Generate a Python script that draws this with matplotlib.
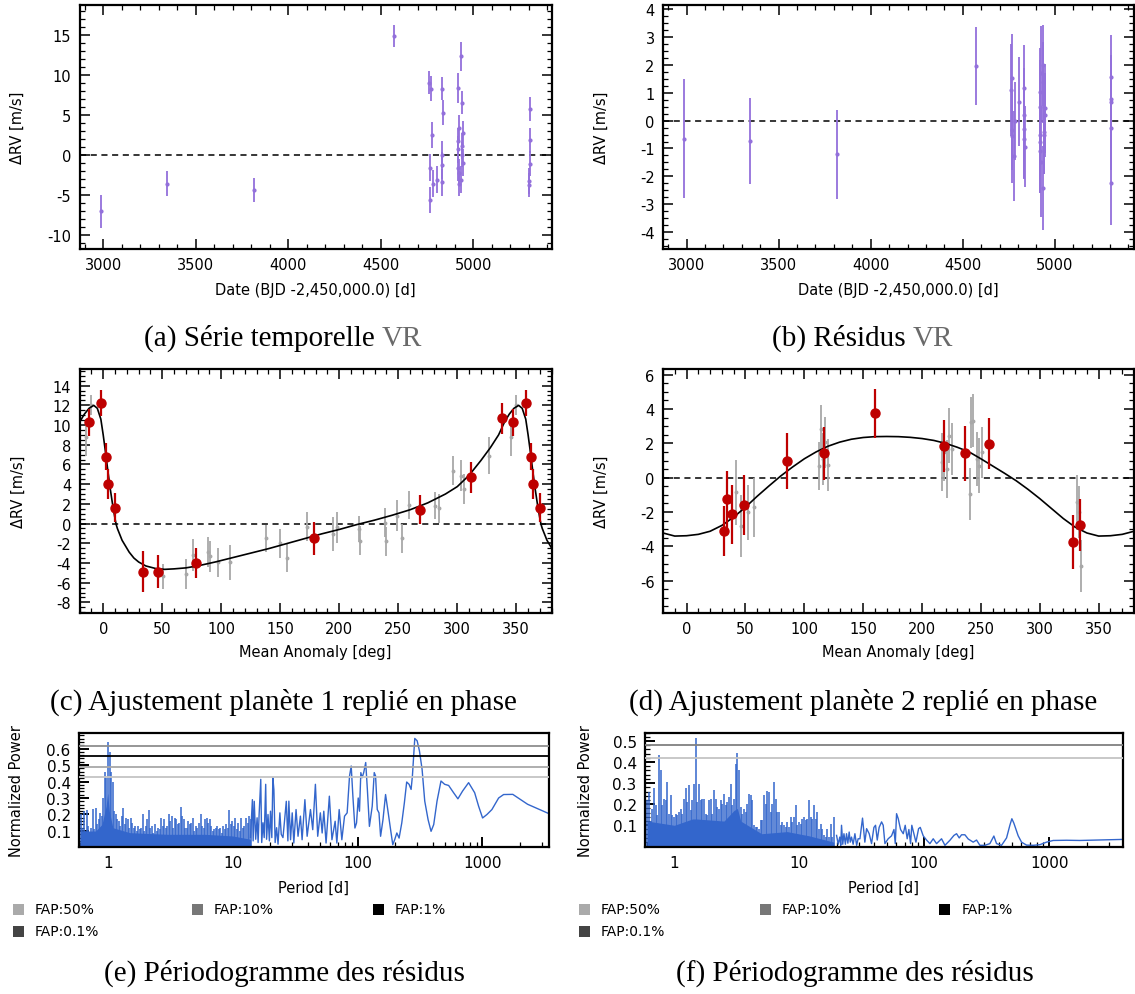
import numpy as np
import matplotlib
matplotlib.use("Agg")
import matplotlib.pyplot as plt
from matplotlib.ticker import (MultipleLocator, FixedLocator, FixedFormatter,
                               NullFormatter, LogLocator, FormatStrFormatter)
from matplotlib.patches import Rectangle

plt.rcParams['axes.unicode_minus'] = False
plt.rcParams['font.family'] = ['DejaVu Sans']

# ---------------- data: time series (panels a, b) ----------------
obs_date = [2988, 3346, 3815, 4570,
            4761, 4766, 4768, 4770, 4779, 4784, 4806,
            4830, 4831, 4833, 4834, 4837,
            4917, 4918, 4919, 4920, 4921, 4924, 4925, 4935, 4937, 4938, 4939, 4942, 4944, 4947,
            5303, 5304, 5305, 5306, 5307]
rv = [-7.1, -3.6, -4.4, 14.87,
      9.05, -5.70, -1.63, 8.29, 2.51, -3.64, -3.10,
      8.29, -3.44, -1.34, 0.0, 5.28,
      1.72, 0.67, -1.63, 8.42, 3.39, -2.26, -3.64, -3.10, 12.32, 1.09, 6.54, 0.0, 2.77, -1.0,
      -3.3, -3.8, -1.1, 1.8, 5.7]
rv_err = [2.1, 1.55, 1.55, 1.42,
          1.47, 1.65, 1.67, 1.6, 1.6, 1.68, 1.68,
          1.4, 1.68, 1.65, 1.68, 1.53,
          1.68, 1.68, 1.62, 1.88, 1.61, 1.68, 1.57, 1.68, 1.78, 1.68, 1.47, 1.57, 1.51, 1.68,
          1.6, 1.5, 1.6, 1.6, 1.5]
res = [-0.65, -0.74, -1.21, 1.96,
       1.11, -0.33, 1.52, -0.55, -1.27, 0.0, 0.68,
       1.16, 0.20, -0.31, -0.66, -0.93,
       1.02, 0.48, -0.51, -0.78, -1.09, -1.47, 1.71, -2.41, 1.98, 1.38, -0.42, -0.51, 0.45, 0.2,
       1.58, 0.68, 0.77, -0.26, -2.23]
res_err = [2.13, 1.55, 1.59, 1.40,
           1.65, 1.45, 1.6, 1.7, 1.6, 1.4, 1.6,
           1.55, 1.7, 1.8, 1.4, 1.45,
           1.6, 1.7, 1.6, 1.8, 1.5, 2.0, 1.7, 1.5, 1.45, 1.45, 1.5, 1.4, 1.6, 1.5,
           1.5, 1.65, 1.6, 1.5, 1.5]

# ---------------- data: phase folded planet 1 (panel c) ----------------
p1_red_phase = [2.2, 4.3, 9.9, 33.8, 46.5, 78.7, 178.3, 268.5, 311.3, 337.6, 347.6, 358.1]
p1_red_rv = [6.79, 4.02, 1.61, -4.89, -4.89, -4.0, -1.5, 1.41, 4.69, 10.68, 10.28, 12.24]
p1_red_err = [1.4, 1.5, 1.5, 2.1, 1.7, 1.55, 1.65, 1.45, 1.6, 1.6, 1.4, 1.35]
p1_gray_phase = [50.8, 69.8, 76.0, 88.7, 90.5, 97.3, 107.6, 137.6, 149.7, 155.9,
                 172.7, 195.0, 198.0, 216.7, 217.3, 238.7, 239.5, 249.0, 253.0, 259.5,
                 281.5, 284.3, 296.0, 302.9, 306.0, 327.0, 345.7, 349.8]
p1_gray_rv = [-5.36, -5.12, -3.2, -2.86, -3.33, -3.94, -3.94, -1.5, -2.0, -3.5,
              -0.3, -1.06, -0.4, -0.55, -1.74, 0.1, -1.8, 0.8, -1.5, 1.88,
              1.82, 1.54, 5.37, 4.86, 3.5, 6.89, 8.75, 12.0]
p1_gray_err = [1.3, 1.5, 1.6, 1.5, 1.6, 1.5, 1.75, 1.4, 1.45, 1.45,
               1.45, 1.7, 1.6, 1.3, 1.5, 1.5, 1.5, 1.6, 1.5, 1.45,
               1.35, 1.45, 1.45, 1.55, 1.5, 1.9, 1.85, 1.0]
p1_model_phase = [0, 2, 4, 6, 8, 10, 11, 12, 14, 16, 18, 20, 22, 26, 30, 36, 44, 52, 60, 70,
                  80, 95, 110, 125, 140, 155, 170, 185, 200, 215, 230, 245, 260, 275, 290,
                  300, 310, 320, 328, 335, 340, 344, 348, 352, 355, 358]
p1_model_rv = [9.0, 7.2, 5.3, 3.5, 1.9, 0.5, -0.1, -0.5, -1.1, -1.7, -2.1, -2.5, -2.9, -3.5,
               -3.9, -4.3, -4.55, -4.65, -4.6, -4.5, -4.3, -3.9, -3.45, -3.0, -2.55, -2.05,
               -1.55, -1.05, -0.6, -0.1, 0.35, 0.85, 1.4, 2.1, 3.0, 3.75, 4.9, 6.4, 7.7,
               9.0, 10.3, 11.1, 11.7, 12.0, 11.7, 10.6]

# ---------------- data: phase folded planet 2 (panel d) ----------------
p2_red_phase = [31.8, 34.2, 38.8, 49.2, 85.0, 116.8, 159.9, 218.3, 236.9, 257.1, 328.6, 334.2]
p2_red_rv = [-3.11, -1.26, -2.14, -1.59, 0.99, 1.42, 3.75, 1.84, 1.42, 1.98, -3.77, -2.76]
p2_red_err = [1.44, 1.65, 1.7, 1.77, 1.63, 1.54, 1.43, 1.52, 1.6, 1.48, 1.57, 1.49]
p2_gray_phase = [41.9, 45.9, 52.0, 57.2, 112.5, 114.6, 116.2, 117.7, 120.1, 217.0,
                 219.0, 221.6, 223.2, 225.6, 240.3, 241.5, 243.4, 247.0, 248.5, 250.7,
                 331.3, 333.2, 335.3]
p2_gray_rv = [-0.85, -2.8, -2.0, -1.73, 0.7, 2.83, 1.09, 2.06, 0.74, 0.9,
              1.48, 0.5, 2.45, 1.67, -0.95, 3.22, 3.32, 1.09, 0.7, 1.48,
              -1.44, -2.0, -5.13]
p2_gray_err = [1.9, 1.8, 1.6, 1.7, 1.4, 1.4, 1.5, 1.5, 1.5, 1.7,
               1.7, 1.7, 1.6, 1.5, 1.5, 1.5, 1.55, 1.6, 1.6, 1.5,
               1.6, 1.5, 1.5]
p2_model_phase = [0, 10, 20, 30, 40, 50, 60, 70, 80, 90, 100, 110, 120, 130, 140, 150,
                  160, 170, 180, 190, 200, 210, 220, 230, 240, 250, 260, 270, 280, 290,
                  300, 310, 320, 330, 340, 350]
p2_model_rv = [-3.38, -3.30, -3.12, -2.78, -2.30, -1.72, -1.08, -0.48, 0.10, 0.62, 1.10,
               1.50, 1.83, 2.07, 2.24, 2.34, 2.39, 2.40, 2.39, 2.35, 2.28, 2.17, 2.00,
               1.77, 1.50, 1.10, 0.68, 0.26, -0.18, -0.68, -1.22, -1.80, -2.38, -2.88,
               -3.22, -3.40]

# ---------------- data: periodograms (panels e, f) ----------------
# dense short-period part: spike heights on a log-spaced period grid
e_dense_range = (0.6077, 13.92)
e_dense_power = [0.20, 0.12, 0.22, 0.10, 0.23, 0.13, 0.09, 0.12, 0.236, 0.11,
                 0.24, 0.14, 0.17, 0.21, 0.19, 0.30, 0.46, 0.42, 0.637, 0.58,
                 0.46, 0.40, 0.22, 0.20, 0.17, 0.16, 0.13, 0.19, 0.24, 0.14,
                 0.18, 0.17, 0.12, 0.18, 0.15, 0.12, 0.13, 0.10, 0.13, 0.11,
                 0.12, 0.20, 0.10, 0.13, 0.17, 0.23, 0.12, 0.13, 0.09, 0.14,
                 0.10, 0.12, 0.11, 0.18, 0.13, 0.17, 0.12, 0.13, 0.20, 0.16,
                 0.19, 0.12, 0.18, 0.17, 0.14, 0.15, 0.246, 0.19, 0.17, 0.12,
                 0.12, 0.16, 0.14, 0.15, 0.18, 0.10, 0.13, 0.12, 0.15, 0.20,
                 0.13, 0.12, 0.17, 0.18, 0.15, 0.17, 0.13, 0.10, 0.11, 0.12,
                 0.13, 0.11, 0.12, 0.09, 0.13, 0.11, 0.14, 0.12, 0.226, 0.14,
                 0.16, 0.13, 0.18, 0.11, 0.15, 0.10, 0.18, 0.12, 0.13, 0.18,
                 0.15, 0.19, 0.17]
# level below which the dense part is solid blue
e_floor_period = [0.6077, 0.8, 0.9, 0.97, 1.0, 1.03, 1.1, 1.5, 3.0, 6.0, 10.0, 13.92]
e_floor_power = [0.10, 0.10, 0.14, 0.25, 0.33, 0.22, 0.12, 0.09, 0.08, 0.08, 0.07, 0.05]
e_line_period = [13.9, 14.4, 14.6, 14.9, 15.3, 15.7, 16.0, 16.3, 16.8, 17.1,
                 17.5, 17.9, 18.4, 18.7, 19.2, 19.7, 20.1, 20.6, 21.0, 21.4,
                 21.9, 22.5, 23.1, 23.9, 24.5, 25.3, 26.1, 26.9, 27.7,
                 28.2, 29.1, 30.0, 30.9, 32.2, 33.4, 34.9, 36.0, 37.9, 39.5,
                 42.0, 43.8, 46.0, 48.0, 50.4, 52.1, 53.7, 56.0, 59.5, 62.4,
                 66.2, 68.3, 71.3, 74.9, 78.7, 82.6, 86.3, 89.0, 91.8, 95.3,
                 98.2, 101.3, 103.7, 106.3, 108.8, 112.1, 116.3, 119.9, 124.5, 131.1,
                 136.1, 139.5, 143.9, 148.5, 153.0, 159.9, 167.7, 176.1, 184.0, 191.5,
                 198.3, 206.4, 215.2, 226.1, 237.2, 247.5, 258.7, 268.5, 275.0, 287.3,
                 300.0, 313.1, 328.8, 345.3, 367.2, 387.9, 407.4, 433.0, 465.8, 498.4,
                 536.4, 587.7, 636.4, 693.5, 775.1, 866.6, 932.3, 1003, 1087, 1191,
                 1348, 1478, 1750, 2300, 3412]
e_line_power = [0.06, 0.29, 0.04, 0.28, 0.05, 0.18, 0.03, 0.20, 0.413, 0.03,
                0.15, 0.06, 0.383, 0.05, 0.20, 0.04, 0.22, 0.06, 0.423, 0.35,
                0.03, 0.12, 0.02, 0.21, 0.08, 0.06, 0.17, 0.28, 0.04,
                0.281, 0.047, 0.21, 0.027, 0.23, 0.068, 0.19, 0.047, 0.29, 0.068,
                0.23, 0.108, 0.383, 0.068, 0.21, 0.088, 0.22, 0.027, 0.311, 0.047,
                0.159, 0.027, 0.23, 0.047, 0.19, 0.21, 0.433, 0.494, 0.311, 0.118,
                0.149, 0.30, 0.22, 0.454, 0.423, 0.454, 0.515, 0.352, 0.128, 0.25,
                0.454, 0.433, 0.23, 0.21, 0.068, 0.169, 0.321, 0.21, 0.108, 0.017,
                0.047, 0.088, 0.057, 0.149, 0.271, 0.397, 0.383, 0.352, 0.433, 0.661,
                0.647, 0.586, 0.474, 0.281, 0.169, 0.098, 0.139, 0.281, 0.403, 0.383,
                0.376, 0.332, 0.295, 0.342, 0.393, 0.332, 0.250, 0.179, 0.20, 0.230,
                0.30, 0.321, 0.322, 0.262, 0.205]

f_dense_range = (0.608, 18.94)
f_dense_power = [0.218, 0.258, 0.12, 0.179, 0.277, 0.195, 0.15, 0.435, 0.361, 0.195,
                 0.226, 0.218, 0.305, 0.155, 0.242, 0.147, 0.139, 0.155, 0.147, 0.163,
                 0.179, 0.155, 0.226, 0.277, 0.211, 0.293, 0.171, 0.218, 0.297, 0.514,
                 0.211, 0.297, 0.218, 0.226, 0.226, 0.155, 0.147, 0.218, 0.226, 0.155,
                 0.266, 0.226, 0.187, 0.179, 0.218, 0.203, 0.25, 0.195, 0.211, 0.234,
                 0.297, 0.195, 0.226, 0.392, 0.444, 0.361, 0.187, 0.155, 0.179, 0.163,
                 0.203, 0.25, 0.242, 0.218, 0.10, 0.092, 0.092, 0.084, 0.124, 0.124,
                 0.242, 0.203, 0.261, 0.258, 0.163, 0.203, 0.305, 0.226, 0.163, 0.163,
                 0.10, 0.116, 0.10, 0.092, 0.116, 0.092, 0.139, 0.116, 0.139, 0.195,
                 0.10, 0.116, 0.108, 0.131, 0.139, 0.124, 0.131, 0.218, 0.139, 0.131,
                 0.195, 0.131, 0.163, 0.084, 0.108, 0.084, 0.052, 0.044, 0.084, 0.044,
                 0.108, 0.044, 0.139]
f_floor_period = [0.608, 1.0, 1.4, 1.5, 2.5, 3.0, 3.2, 3.4, 5.0, 8.0, 12.0, 18.94]
f_floor_power = [0.12, 0.10, 0.13, 0.13, 0.12, 0.17, 0.18, 0.12, 0.06, 0.07, 0.05, 0.02]
f_line_period = [19.9, 20.5, 21.1, 21.5, 21.8, 22.3, 22.8, 23.4, 23.9, 24.5,
                 25.1, 25.6, 26.2, 27.0, 27.9, 28.8, 29.6, 30.6, 32.1, 33.5,
                 34.6, 36.3, 37.9, 39.6, 40.8, 42.1, 43.6, 45.6, 47.0, 48.5,
                 51.5, 54.8, 57.3, 58.7, 60.1, 62.0, 64.7, 68.0, 70.5, 73.1,
                 75.4, 77.8, 79.6, 82.7, 85.9, 90.2, 93.0, 98.2, 104.4, 111.1,
                 118.1, 125.6, 137.7, 146.6, 160.7, 173.0, 181.6, 190.7, 199.1, 211.7,
                 225.0, 246.7, 262.4, 279.0, 305.9, 335.4, 361.1, 379.3, 415.9, 456.2,
                 484.9, 503.1, 521.9, 565.3, 601.3, 659.2, 745.4, 842.6, 952.8, 1077,
                 1377, 1760, 3900]
f_line_power = [0.052, 0.01, 0.044, 0.005, 0.10, 0.01, 0.06, 0.01, 0.06, 0.015,
                0.068, 0.02, 0.044, 0.01, 0.06, 0.005, 0.036, 0.036, 0.134, 0.02,
                0.084, 0.06, 0.013, 0.09, 0.10, 0.03, 0.09, 0.116, 0.10, 0.013,
                0.036, 0.05, 0.08, 0.013, 0.155, 0.131, 0.08, 0.06, 0.10, 0.036,
                0.08, 0.013, 0.10, 0.06, 0.02, 0.084, 0.09, 0.05, 0.03, 0.013,
                0.036, 0.013, 0.036, 0.005, 0.029, 0.052, 0.060, 0.040, 0.055, 0.055,
                0.035, 0.02, 0.03, 0.005, 0.005, 0.013, 0.049, 0.013, 0.005, 0.04,
                0.10, 0.131, 0.11, 0.05, 0.02, 0.006, 0.005, 0.008, 0.02, 0.028,
                0.029, 0.028, 0.033]

fap_labels = ['FAP:50%', 'FAP:10%', 'FAP:1%', 'FAP:0.1%']
fap_colors = ['#aaaaaa', '#777777', '#000000', '#444444']
fap_line_colors = ['#c4c4c4', '#a8a8a8', '#000000', '#8e8e8e']
e_fap_levels = [0.425, 0.487, 0.556, 0.614]
f_fap_levels = [0.419, 0.481]

# ---------------- styles ----------------
PURPLE = '#9370db'
RED = '#be0000'
GRAY = '#a8a8a8'
BLUE = '#3366cc'
SERIF = ['Liberation Serif', 'DejaVu Serif']
FS = 10.5

W, H = 1135, 995
fig = plt.figure(figsize=(W / 100, H / 100), dpi=100)


def add_ax(l, t, r, b):
    return fig.add_axes([l / W, 1 - b / H, (r - l) / W, (b - t) / H])


def frame(ax):
    for s in ax.spines.values():
        s.set_linewidth(1.6)


def label_axes(ax, box, xlabel, ylabel, xlab_y, ylab_x):
    l, t, r, b = box
    ax.set_xlabel(xlabel, fontsize=FS)
    ax.set_ylabel(ylabel, fontsize=FS)
    ax.xaxis.set_label_coords(0.5, (b - xlab_y) / (b - t))
    ax.yaxis.set_label_coords((ylab_x - l) / (r - l), 0.5)
    ax.xaxis.label.set_va('center')
    ax.yaxis.label.set_va('center')


def rv_axes(box, xlim, ylim, xmaj, xmin, ymaj, ymin, xlabel, xlab_y, ylab_x):
    ax = add_ax(*box)
    ax.set_xlim(*xlim)
    ax.set_ylim(*ylim)
    ax.xaxis.set_major_locator(MultipleLocator(xmaj))
    ax.xaxis.set_minor_locator(MultipleLocator(xmin))
    ax.yaxis.set_major_locator(MultipleLocator(ymaj))
    ax.yaxis.set_minor_locator(MultipleLocator(ymin))
    ax.tick_params(which='both', direction='in', top=True, right=True, labelsize=FS)
    ax.tick_params(which='major', length=7, width=1.1, pad=6)
    ax.tick_params(which='minor', length=3.5, width=0.9)
    frame(ax)
    label_axes(ax, box, xlabel, 'ΔRV [m/s]', xlab_y, ylab_x)
    ax.axhline(0, color='black', lw=1.1, ls=(0, (4, 3)), zorder=1)
    return ax


def wrap_points(phase, vals, errs, lo=-20, hi=380):
    ph = np.asarray(phase, float)
    v = np.asarray(vals, float)
    e = np.asarray(errs, float)
    P, V, E = [], [], []
    for shift in (-360, 0, 360):
        s = ph + shift
        m = (s >= lo) & (s <= hi)
        P.append(s[m]); V.append(v[m]); E.append(e[m])
    return np.concatenate(P), np.concatenate(V), np.concatenate(E)


def wrap_curve(phase, vals):
    ph = np.asarray(phase, float)
    v = np.asarray(vals, float)
    return (np.concatenate([ph - 360, ph, ph + 360]), np.concatenate([v, v, v]))


# ---------------- panel a ----------------
boxA = (79.6, 6, 551.7, 250)
axA = rv_axes(boxA, (2872, 5425), (-11.8, 18.76), 500, 100, 5, 1,
              'Date (BJD -2,450,000.0) [d]', 290, 17.5)
axA.errorbar(obs_date, rv, yerr=rv_err, fmt='o', ms=2.0, color=PURPLE,
             ecolor=PURPLE, elinewidth=1.3, capsize=0, zorder=3)

# ---------------- panel b ----------------
boxB = (663, 6, 1134, 249.5)
axB = rv_axes(boxB, (2872, 5430), (-4.59, 4.15), 500, 100, 1, 0.25,
              'Date (BJD -2,450,000.0) [d]', 290, 601)
axB.errorbar(obs_date, res, yerr=res_err, fmt='o', ms=2.0, color=PURPLE,
             ecolor=PURPLE, elinewidth=1.3, capsize=0, zorder=3)

# ---------------- panel c ----------------
boxC = (79.6, 370, 551.7, 614)
axC = rv_axes(boxC, (-20, 380), (-9.08, 15.69), 50, 10, 2, 0.5,
              'Mean Anomaly [deg]', 653, 18.3)
gp, gv, ge = wrap_points(p1_gray_phase, p1_gray_rv, p1_gray_err)
axC.errorbar(gp, gv, yerr=ge, fmt='o', ms=1.8, color=GRAY, ecolor=GRAY,
             elinewidth=1.3, capsize=0, zorder=2)
mp, mv = wrap_curve(p1_model_phase, p1_model_rv)
axC.plot(mp, mv, color='black', lw=1.2, zorder=3)
rp, rvv, re = wrap_points(p1_red_phase, p1_red_rv, p1_red_err)
axC.errorbar(rp, rvv, yerr=re, fmt='o', ms=6.5, color=RED, ecolor=RED,
             elinewidth=1.6, capsize=0, zorder=4)

# ---------------- panel d ----------------
boxD = (663, 370, 1134, 614)
axD = rv_axes(boxD, (-20, 380), (-7.88, 6.33), 50, 10, 2, 0.5,
              'Mean Anomaly [deg]', 653, 601)
gp, gv, ge = wrap_points(p2_gray_phase, p2_gray_rv, p2_gray_err)
axD.errorbar(gp, gv, yerr=ge, fmt='o', ms=1.8, color=GRAY, ecolor=GRAY,
             elinewidth=1.3, capsize=0, zorder=2)
mp, mv = wrap_curve(p2_model_phase, p2_model_rv)
axD.plot(mp, mv, color='black', lw=1.2, zorder=3)
rp, rvv, re = wrap_points(p2_red_phase, p2_red_rv, p2_red_err)
axD.errorbar(rp, rvv, yerr=re, fmt='o', ms=6.5, color=RED, ecolor=RED,
             elinewidth=1.6, capsize=0, zorder=4)


# ---------------- periodograms ----------------
def pg_axes(box, xlim, ylim, yticks, ylab_x):
    ax = add_ax(*box)
    ax.set_xscale('log')
    ax.set_xlim(*xlim)
    ax.set_ylim(*ylim)
    ax.xaxis.set_major_locator(FixedLocator([1, 10, 100, 1000]))
    ax.xaxis.set_major_formatter(FixedFormatter(['1', '10', '100', '1000']))
    ax.xaxis.set_minor_locator(LogLocator(base=10, subs=np.arange(2, 10), numticks=30))
    ax.xaxis.set_minor_formatter(NullFormatter())
    ax.yaxis.set_major_locator(FixedLocator(yticks))
    ax.yaxis.set_major_formatter(FormatStrFormatter('%.1f'))
    ax.yaxis.set_minor_locator(MultipleLocator(0.02))
    ax.tick_params(which='both', direction='in', top=False, right=False, labelsize=11)
    ax.tick_params(which='major', length=7, width=1.4, pad=6)
    ax.tick_params(which='minor', length=3.5, width=0.9)
    frame(ax)
    label_axes(ax, box, 'Period [d]', 'Normalized Power', 888, ylab_x)
    return ax


def draw_pg(ax, dense_range, dense_power, floor_p, floor_v,
            line_period, line_power, levels, lcolors):
    dp = np.geomspace(dense_range[0], dense_range[1], len(dense_power))
    ax.fill_between(floor_p, 0, floor_v, color=BLUE, lw=0, zorder=2)
    ax.vlines(dp, 0, dense_power, color=BLUE, lw=1.1, zorder=2)
    ax.plot(line_period, line_power, color=BLUE, lw=1.0, zorder=2)
    for lev, c in zip(levels, lcolors):
        ax.axhline(lev, color=c, lw=1.3, zorder=3)


boxE = (79, 734, 549, 848)
axE = pg_axes(boxE, (0.589, 3412), (0.003, 0.694), [0.1, 0.2, 0.3, 0.4, 0.5, 0.6], 16.8)
draw_pg(axE, e_dense_range, e_dense_power, e_floor_period, e_floor_power,
        e_line_period, e_line_power, e_fap_levels, fap_line_colors)

boxF = (645, 733.5, 1123, 848)
axF = pg_axes(boxF, (0.583, 3900), (-0.003, 0.540), [0.1, 0.2, 0.3, 0.4, 0.5], 585)
draw_pg(axF, f_dense_range, f_dense_power, f_floor_period, f_floor_power,
        f_line_period, f_line_power, f_fap_levels, [fap_line_colors[0], '#808080'])


# ---------------- FAP legends ----------------
def fap_legend(sq_x, rows_y):
    slots = [(0, 0), (1, 0), (2, 0), (0, 1)]
    for (c, r), lab, col in zip(slots, fap_labels, fap_colors):
        y = rows_y[r]
        fig.add_artist(Rectangle((sq_x[c] / W, 1 - (y + 5.5) / H), 11 / W, 11 / H,
                                 transform=fig.transFigure, facecolor=col,
                                 edgecolor='none'))
        fig.text((sq_x[c] + 22) / W, 1 - y / H, lab, fontsize=10,
                 va='center', ha='left')


fap_legend([12.8, 191.8, 372.7], [910.5, 932])
fap_legend([579, 760, 939.4], [910.5, 932])

# ---------------- captions ----------------
renderer = fig.canvas.get_renderer()


def caption(xc, ybase, main, extra=None):
    t1 = fig.text(0, 1 - ybase / H, main, fontsize=21, family=SERIF,
                  va='baseline', ha='left')
    w1 = t1.get_window_extent(renderer).width
    gap, w2, t2 = 0, 0, None
    if extra:
        gap = 7
        t2 = fig.text(0, 1 - ybase / H, extra, fontsize=21, family=SERIF,
                      va='baseline', ha='left', color='#6a6a6a')
        w2 = t2.get_window_extent(renderer).width
    x0 = xc - (w1 + gap + w2) / 2
    t1.set_x(x0 / W)
    if t2 is not None:
        t2.set_x((x0 + w1 + gap) / W)


caption(283, 346, '(a) Série temporelle', 'VR')
caption(863, 346, '(b) Résidus', 'VR')
caption(283, 710, '(c) Ajustement planète 1 replié en phase')
caption(863, 710, '(d) Ajustement planète 2 replié en phase')
caption(284, 981, '(e) Périodogramme des résidus')
caption(855, 981, '(f) Périodogramme des résidus')

fig.savefig('out.png', dpi=100)
